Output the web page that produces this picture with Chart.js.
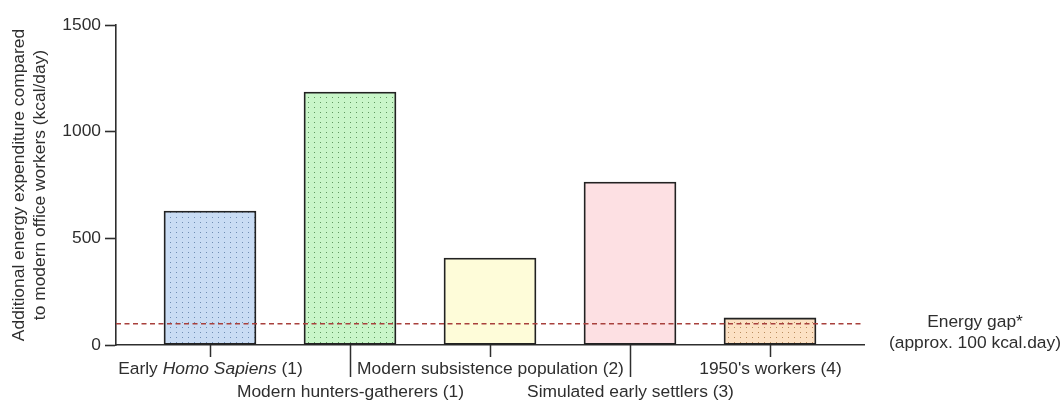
<!DOCTYPE html>
<html>
<head>
<meta charset="utf-8">
<script src="https://cdn.jsdelivr.net/npm/chart.js@4.4.1/dist/chart.umd.min.js"></script>
<style>
  body { margin: 0; background: #fff; }
  #wrap { width: 1062px; height: 403px; position: relative; }
</style>
</head>
<body>
<div id="wrap"><canvas id="energyChart"></canvas></div>
<script>
const categories = [
  "Early Homo Sapiens (1)",
  "Modern hunters-gatherers (1)",
  "Modern subsistence population (2)",
  "Simulated early settlers (3)",
  "1950's workers (4)"
];
const italicParts = ["Homo Sapiens", "", "", "", ""];
const labelRows = [0, 1, 0, 1, 0];
const energyValues = [628, 1186, 408, 764, 127];
const yTicks = [0, 500, 1000, 1500];
const gapValue = 100;
const gapLabel = ["Energy gap*", "(approx. 100 kcal.day)"];
const yTitle = ["Additional energy expenditure compared", "to modern office workers (kcal/day)"];

const fillColors = ["#c9dcf4", "#c9f6c9", "#fefcd9", "#fde0e3", "#fce1c4"];
const dotColors = ["#6f8db3", "#5f985f", null, null, "#b98c5e"];

const FONT = "'Liberation Sans', Arial, sans-serif";
const INK = "#2e2e2e";
const FSIZE = 17.4;

function makeFill(base, dot) {
  if (!dot) return base;
  const c = document.createElement("canvas");
  c.width = 6;
  c.height = 5;
  const g = c.getContext("2d");
  g.fillStyle = base;
  g.fillRect(0, 0, 6, 5);
  g.fillStyle = dot;
  g.fillRect(2, 2, 1, 1);
  return g.createPattern(c, "repeat");
}

const fills = fillColors.map((col, i) => makeFill(col, dotColors[i]));

// x labels, staggered in two rows, with long ticks for the second row
const xLabelsPlugin = {
  id: "xLabels",
  afterDraw(chart) {
    const ctx = chart.ctx;
    const xs = chart.scales.x;
    const base = chart.chartArea.bottom;
    ctx.save();
    ctx.strokeStyle = INK;
    ctx.lineWidth = 1.5;
    ctx.fillStyle = INK;
    ctx.textBaseline = "middle";
    categories.forEach((label, i) => {
      const px = Math.round(xs.getPixelForValue(i)) + 0.5;
      const row = labelRows[i];
      ctx.beginPath();
      ctx.moveTo(px, base);
      ctx.lineTo(px, base + (row ? 32 : 12));
      ctx.stroke();

      const ty = base + (row ? 47 : 24);
      const it = italicParts[i];
      let parts = [{ t: label, italic: false }];
      if (it && label.includes(it)) {
        const k = label.indexOf(it);
        parts = [
          { t: label.slice(0, k), italic: false },
          { t: it, italic: true },
          { t: label.slice(k + it.length), italic: false }
        ];
      }
      let total = 0;
      parts.forEach(p => {
        ctx.font = (p.italic ? "italic " : "") + FSIZE + "px " + FONT;
        p.w = ctx.measureText(p.t).width;
        total += p.w;
      });
      let x = px - total / 2;
      ctx.textAlign = "left";
      parts.forEach(p => {
        ctx.font = (p.italic ? "italic " : "") + FSIZE + "px " + FONT;
        ctx.fillText(p.t, x, ty);
        x += p.w;
      });
    });
    ctx.restore();
  }
};

// dashed energy-gap line and its note on the right
const gapPlugin = {
  id: "gapLine",
  afterDatasetsDraw(chart) {
    const ctx = chart.ctx;
    const ys = chart.scales.y;
    const area = chart.chartArea;
    const y = ys.getPixelForValue(gapValue);
    ctx.save();
    ctx.strokeStyle = "#a8403c";
    ctx.lineWidth = 1.5;
    ctx.setLineDash([5, 3.5]);
    ctx.beginPath();
    ctx.moveTo(area.left, y);
    ctx.lineTo(area.right, y);
    ctx.stroke();
    ctx.setLineDash([]);
    ctx.fillStyle = INK;
    ctx.font = FSIZE + "px " + FONT;
    ctx.textAlign = "center";
    ctx.textBaseline = "middle";
    ctx.fillText(gapLabel[0], 975, y - 1);
    ctx.fillText(gapLabel[1], 975, y + 20);
    ctx.restore();
  }
};

Chart.defaults.font.family = FONT;
Chart.defaults.font.size = FSIZE;
Chart.defaults.color = INK;

new Chart(document.getElementById("energyChart"), {
  type: "bar",
  data: {
    datasets: [{
      data: energyValues.map((v, i) => ({ x: i, y: v })),
      backgroundColor: fills,
      borderColor: "#222",
      borderWidth: 1.8,
      borderSkipped: false,
      barThickness: 92
    }]
  },
  plugins: [gapPlugin, xLabelsPlugin],
  options: {
    responsive: true,
    maintainAspectRatio: false,
    animation: false,
    layout: { padding: { left: 0, right: 198, top: 25, bottom: 0 } },
    plugins: {
      legend: { display: false },
      tooltip: { enabled: false }
    },
    scales: {
      x: {
        type: "linear",
        offset: false,
        min: -0.6714,
        max: 4.6714,
        grid: { display: false },
        ticks: { display: false },
        border: { color: INK, width: 1.6 },
        afterFit: (s) => { s.height = 58; }
      },
      y: {
        min: 0,
        max: 1500,
        afterBuildTicks: (s) => { s.ticks = yTicks.map(v => ({ value: v })); },
        ticks: { padding: 4, color: INK, callback: (v) => String(v) },
        grid: { drawOnChartArea: false, tickLength: 11, tickColor: INK, tickWidth: 1.6 },
        border: { color: INK, width: 1.6 },
        title: {
          display: true,
          text: yTitle,
          font: { size: FSIZE, lineHeight: 1.25 },
          color: INK,
          padding: { top: 8, bottom: 0 }
        },
        afterFit: (s) => { s.width = 116; }
      }
    }
  }
});
</script>
</body>
</html>
